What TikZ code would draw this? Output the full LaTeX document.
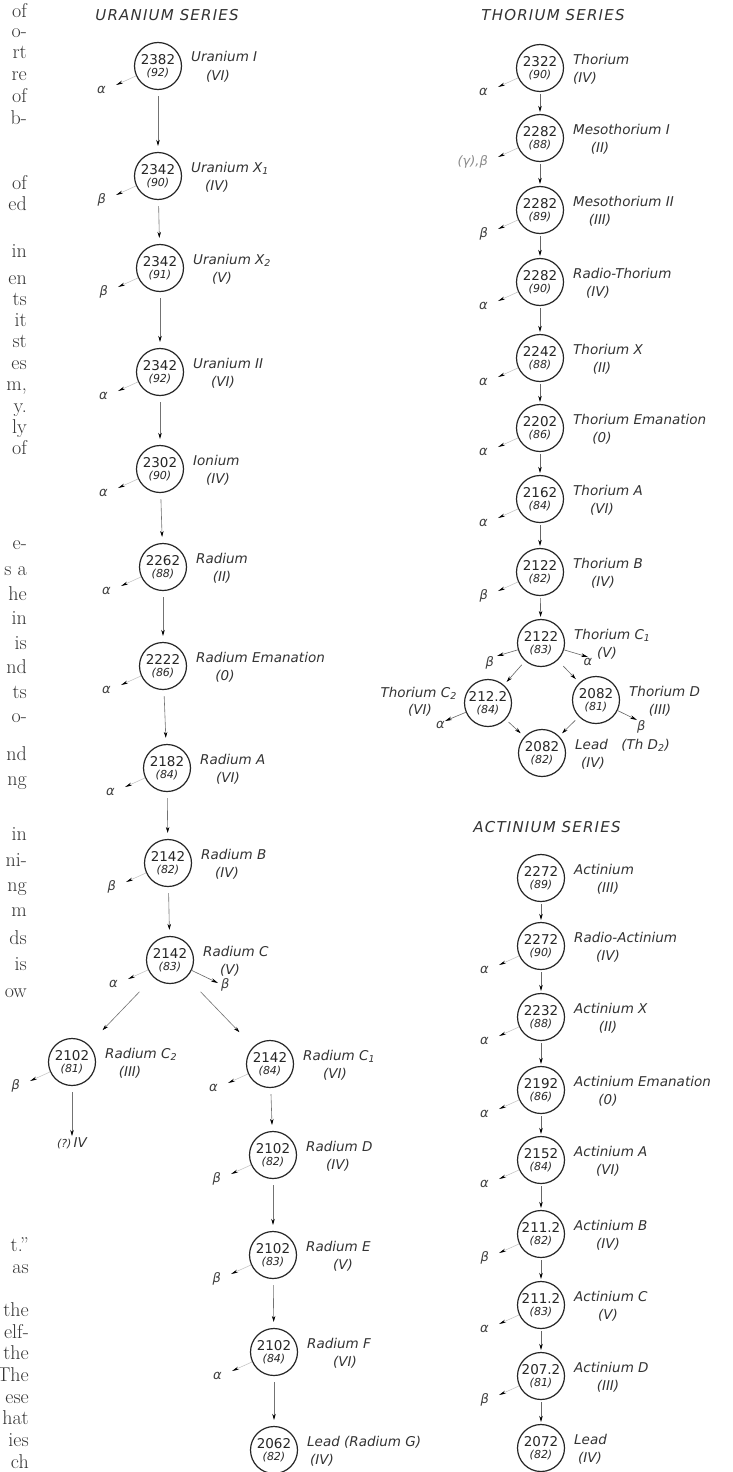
\documentclass[tikz,border=0pt]{standalone}
\usepackage{fontspec}
\usetikzlibrary{arrows.meta}
\newfontfamily\dvs{DejaVu Sans}
\newcommand\labf{\dvs\itshape\fontsize{13.5}{15}\selectfont}
\newcommand\massf{\dvs\fontsize{13.5}{14}\selectfont}
\newcommand\znf{\dvs\itshape\fontsize{11}{12}\selectfont}
\newcommand\emf{\dvs\itshape\fontsize{13}{14}\selectfont}
\newcommand\ttlf{\dvs\itshape\fontsize{15}{17}\selectfont\addfontfeature{LetterSpace=8}}
\newcommand\fragf{\rmfamily\fontsize{20}{22}\selectfont}
\tikzset{
  iso/.style={circle, draw=black!85, line width=1.2pt, minimum size=47pt, inner sep=0pt, align=center, text=black!85},
  chainU/.style={draw=black!55, line width=0.6pt, -{Stealth[length=6pt,width=3.5pt,color=black]}, shorten <=6pt, shorten >=6pt},
  chainT/.style={draw=black!60, line width=0.6pt, -{Stealth[length=6pt,width=3.5pt,color=black]}, shorten <=2pt, shorten >=2pt},
  emit/.style={draw=black!25, line width=0.5pt, -{Stealth[length=7pt,width=3pt,color=black]}},
  emitv/.style={draw=black!60, line width=0.6pt, -{Stealth[length=7pt,width=3.5pt,color=black]}},
  lab/.style={font=\labf, text=black!80, inner sep=0pt},
  emlab/.style={font=\emf, text=black!75, inner sep=0pt},
  ttl/.style={font=\ttlf, text=black!80, inner sep=0pt},
  frag/.style={font=\fragf, text=black!80, inner sep=0pt, anchor=mid east}
}
% name, x, y, mass, Z, label, roman, dx of roman
\newcommand\iso[8]{%
  \node[iso] (#1) at (#2,#3) {\massf #4\\[0pt]\znf(#5)};
  \node[lab, anchor=base west] (#1-n) at ([xshift=33pt,yshift=4pt]#1.center) {#6};
  \node[lab] (#1-r) at ([xshift=#8pt,yshift=-10pt]#1.center) {#7};
}
\newcommand\emitm[2]{%
  \coordinate (#1-e) at ([xshift=-42pt,yshift=-19pt]#1.center);
  \draw[emit] (#1) -- (#1-e);
  \node[emlab, anchor=east] (#1-el) at ([xshift=-52pt,yshift=-24pt]#1.center) {#2};
}
\begin{document}
\begin{tikzpicture}[x=1pt,y=-1pt]
\useasboundingbox (0,0) rectangle (733,1472);
\fill[white] (0,0) rectangle (733,1472);

% fragments of the page text at the left edge
\foreach \t/\y in {of/15, o-/35, rt/56, re/78, of/100, b-/122, of/187, ed/208, in/255, en/282, ts/303, it/324, st/345, es/367, {m,}/388, {y.}/410, ly/431, of/452, e-/547, s a/573, he/598, in/622, is/647, nd/671, ts/696, o-/720, nd/758, ng/783, in/838, ni-/864, ng/889, m/914, ds/942, is/968, ow/995}
  \node[frag] (fr\y) at (27,\y) {\t};
\foreach \t/\y in {t.''/1249, as/1271, the/1314, elf-/1336, the/1357, The/1379, ese/1401, hat/1422, ies/1444, ch/1466}
  \node[frag] (fr\y) at (29,\y) {\t};

% titles
\node[ttl] (tU) at (167,15) {URANIUM SERIES};
\node[ttl] (tT) at (553,15) {THORIUM SERIES};
\node[ttl] (tA) at (547,827) {ACTINIUM SERIES};

% ---------------- Uranium series
\iso{UI}{158}{66}{2382}{92}{Uranium I}{(VI)}{60}
\iso{UXa}{158}{176}{2342}{90}{Uranium X\textsubscript{1}}{(IV)}{59}
\iso{UXb}{160}{268}{2342}{91}{Uranium X\textsubscript{2}}{(V)}{62}
\iso{UII}{160}{372}{2342}{92}{Uranium II}{(VI)}{63}
\iso{Io}{160}{469}{2302}{90}{Ionium}{(IV)}{58}
\iso{Ra}{163}{567}{2262}{88}{Radium}{(II)}{59}
\iso{RaEm}{163}{666}{2222}{86}{Radium Emanation}{(0)}{62}
\iso{RaA}{167}{768}{2182}{84}{Radium A}{(VI)}{61}
\iso{RaB}{168}{863}{2142}{82}{Radium B}{(IV)}{59}
\iso{RaC}{170}{960}{2142}{83}{Radium C}{(V)}{60}
\iso{RaCb}{72}{1062}{2102}{81}{Radium C\textsubscript{2}}{(III)}{58}
\iso{RaCa}{270}{1064}{2142}{84}{Radium C\textsubscript{1}}{(VI)}{65}
\iso{RaD}{273}{1155}{2102}{82}{Radium D}{(IV)}{65}
\iso{RaE}{273}{1255}{2102}{83}{Radium E}{(V)}{70}
\iso{RaF}{274}{1352}{2102}{84}{Radium F}{(VI)}{71}
\iso{RaG}{274}{1450}{2062}{82}{Lead (Radium G)}{(IV)}{48}

\foreach \a/\b in {UI/UXa, UXa/UXb, UXb/UII, UII/Io, Io/Ra, Ra/RaEm, RaEm/RaA, RaA/RaB, RaB/RaC, RaCa/RaD, RaD/RaE, RaE/RaF, RaF/RaG}
  \draw[chainU] (\a) -- (\b);
\draw[chainU, shorten <=20pt, shorten >=20pt] (RaC) -- (RaCb);
\draw[chainU, shorten <=20pt, shorten >=20pt] (RaC) -- (RaCa);
\coordinate (RaCb-d) at (72,1136);
\draw[chainU, shorten >=0pt] (RaCb) -- (RaCb-d);
\node[lab, anchor=north] (RaCb-dl) at ([yshift=-1pt]RaCb-d) {{\znf(?)}\,IV};
\coordinate (RaC-b) at (218,983);
\draw[emitv] (RaC) -- (RaC-b);
\node[emlab, anchor=west] (RaC-bl) at ([xshift=3pt,yshift=-2pt]RaC-b) {β};

\emitm{UI}{α}\emitm{UXa}{β}\emitm{UXb}{β}\emitm{UII}{α}\emitm{Io}{α}
\emitm{Ra}{α}\emitm{RaEm}{α}\emitm{RaA}{α}\emitm{RaB}{β}\emitm{RaC}{α}
\emitm{RaCb}{β}\emitm{RaCa}{α}\emitm{RaD}{β}\emitm{RaE}{β}\emitm{RaF}{α}

% ---------------- Thorium series
\iso{Th}{540}{68}{2322}{90}{Thorium}{(IV)}{45}
\iso{MTa}{540}{138}{2282}{88}{Mesothorium I}{(II)}{60}
\iso{MTb}{540}{210}{2282}{89}{Mesothorium II}{(III)}{60}
\iso{RdTh}{540}{282}{2282}{90}{Radio-Thorium}{(IV)}{58}
\iso{ThX}{540}{358}{2242}{88}{Thorium X}{(II)}{62}
\iso{ThEm}{540}{428}{2202}{86}{Thorium Emanation}{(0)}{62}
\iso{ThA}{540}{499}{2162}{84}{Thorium A}{(VI)}{62}
\iso{ThB}{540}{572}{2122}{82}{Thorium B}{(IV)}{63}
\iso{ThC}{541}{643}{2122}{83}{Thorium C\textsubscript{1}}{(V)}{66}
\node[iso] (ThCb) at (488,703) {\massf 212.2\\[0pt]\znf(84)};
\node[lab, anchor=base east] (ThCb-n) at ([xshift=-31pt,yshift=6pt]ThCb.center) {Thorium C\textsubscript{2}};
\node[lab] (ThCb-r) at ([xshift=-68pt,yshift=-7pt]ThCb.center) {(VI)};
\iso{ThD}{596}{700}{2082}{81}{Thorium D}{(III)}{64}
\iso{ThPb}{542}{753}{2082}{82}{Lead\quad(Th D\textsubscript{2})}{(IV)}{51}

\foreach \a/\b in {Th/MTa, MTa/MTb, MTb/RdTh, RdTh/ThX, ThX/ThEm, ThEm/ThA, ThA/ThB, ThB/ThC}
  \draw[chainT] (\a) -- (\b);
\draw[chainT, shorten <=5pt, shorten >=4pt] (ThC) -- (ThCb);
\draw[chainT, shorten <=8pt, shorten >=5pt] (ThC) -- (ThD);
\draw[chainT, shorten <=4pt, shorten >=5pt] (ThCb) -- (ThPb);
\draw[chainT, shorten <=5pt, shorten >=4pt] (ThD) -- (ThPb);

\coordinate (ThC-b) at (497,656);
\draw[emitv] (ThC) -- (ThC-b);
\node[emlab, anchor=north east] (ThC-bl) at ([xshift=-3pt]ThC-b) {β};
\coordinate (ThC-a) at (588,657);
\draw[emitv] (ThC) -- (ThC-a);
\node[emlab, anchor=north] (ThC-al) at ([yshift=-1pt]ThC-a) {α};
\coordinate (ThCb-a) at (445,721);
\draw[emitv] (ThCb) -- (ThCb-a);
\node[emlab, anchor=north east] (ThCb-al) at (ThCb-a) {α};
\coordinate (ThD-b) at (637,720);
\draw[emitv] (ThD) -- (ThD-b);
\node[emlab, anchor=north west] (ThD-bl) at (ThD-b) {β};

\emitm{Th}{α}
\emitm{MTa}{\textcolor{black!45}{(γ),β}}
\emitm{MTb}{β}\emitm{RdTh}{α}\emitm{ThX}{α}\emitm{ThEm}{α}\emitm{ThA}{α}\emitm{ThB}{β}

% ---------------- Actinium series
\iso{Ac}{541}{878}{2272}{89}{Actinium}{(III)}{67}
\iso{RdAc}{541}{946}{2272}{90}{Radio-Actinium}{(IV)}{67}
\iso{AcX}{541}{1017}{2232}{88}{Actinium X}{(II)}{67}
\iso{AcEm}{541}{1090}{2192}{86}{Actinium Emanation}{(0)}{67}
\iso{AcA}{541}{1160}{2152}{84}{Actinium A}{(VI)}{67}
\iso{AcB}{541}{1234}{211.2}{82}{Actinium B}{(IV)}{67}
\iso{AcC}{541}{1305}{211.2}{83}{Actinium C}{(V)}{67}
\iso{AcD}{541}{1376}{207.2}{81}{Actinium D}{(III)}{67}
\iso{AcPb}{541}{1448}{2072}{82}{Lead}{(IV)}{49}

\foreach \a/\b in {Ac/RdAc, RdAc/AcX, AcX/AcEm, AcEm/AcA, AcA/AcB, AcB/AcC, AcC/AcD, AcD/AcPb}
  \draw[chainT] (\a) -- (\b);

\emitm{RdAc}{α}\emitm{AcX}{α}\emitm{AcEm}{α}\emitm{AcA}{α}
\emitm{AcB}{β}\emitm{AcC}{α}\emitm{AcD}{β}
\end{tikzpicture}
\end{document}
